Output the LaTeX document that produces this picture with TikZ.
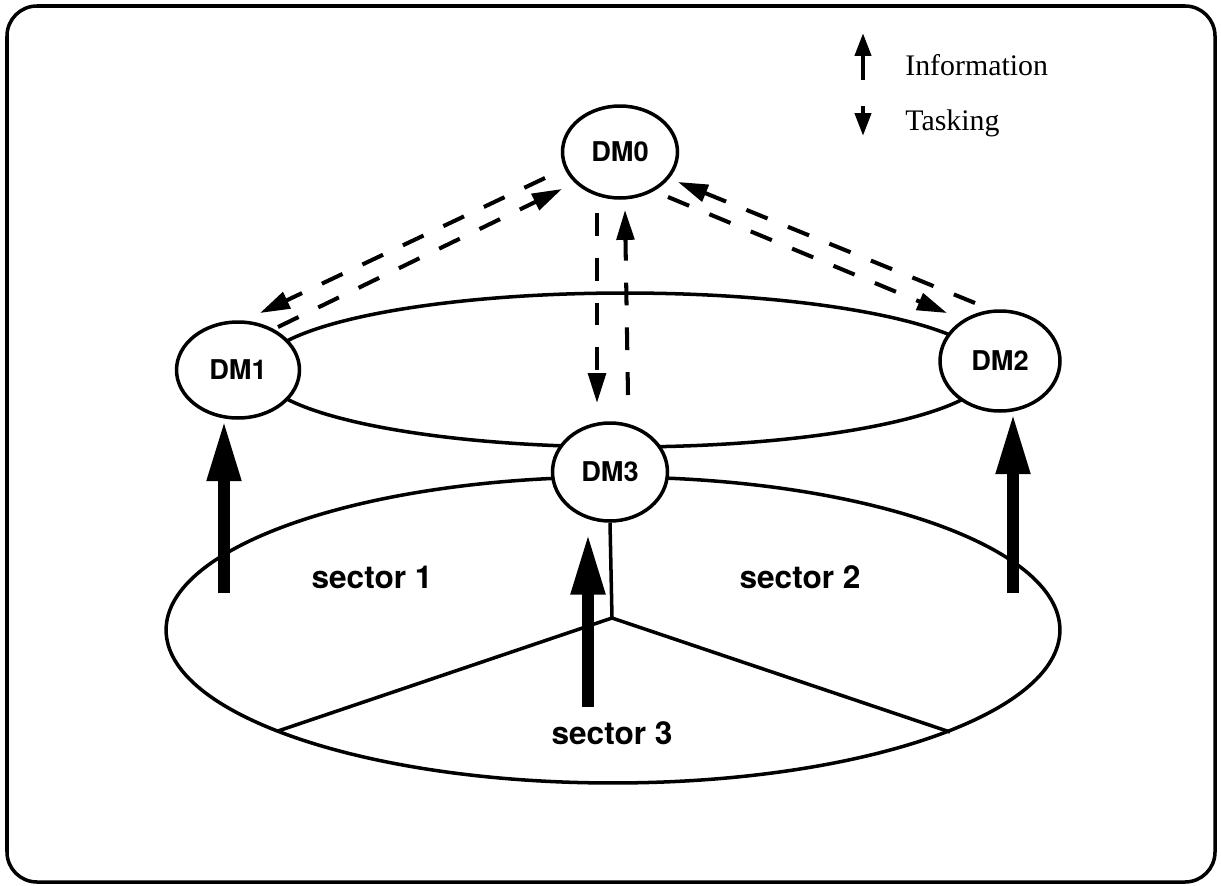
\documentclass[tikz,border=0pt]{standalone}
\usepackage{fontspec}
\setmainfont{Liberation Serif}
\setsansfont{TeX Gyre Heros}
\usetikzlibrary{shapes.geometric,arrows.meta}
\begin{document}
\begin{tikzpicture}[x=0.02cm,y=-0.02cm,
  outline/.style={line width=2pt},
  dmnode/.style={ellipse,draw,line width=2pt,fill=white,inner sep=0pt,
    font=\sffamily\bfseries\fontsize{15.5}{15.5}\selectfont},
  seclabel/.style={font=\sffamily\bfseries\fontsize{18}{18}\selectfont},
  legendtext/.style={font=\fontsize{17}{17}\selectfont,anchor=west,inner sep=0pt},
  dasharrow/.style={line width=2.3pt,dash pattern=on 13pt off 12.5pt,
    -{Triangle[length=17pt,width=10pt]}},
  bigarrow/.style={line width=6.8pt,-{Triangle[length=35pt,width=18pt]}},
  legendarrow/.style={line width=2.5pt,-{Triangle[length=13pt,width=9pt]}}]
\useasboundingbox (0,0) rectangle (1221,886);
% frame
\draw[line width=2pt,rounded corners=0.6cm] (7,6) rectangle (1215,882);
% legend
\coordinate (la1) at (863,80);
\coordinate (la2) at (863,33);
\coordinate (lb1) at (863,106);
\coordinate (lb2) at (863,136);
\draw[legendarrow] (la1) -- (la2);
\draw[legendarrow] (lb1) -- (lb2);
\node[legendtext] (linfo) at (905,65) {Information};
\node[legendtext] (ltask) at (905,123) {Tasking};
% disk and ring
\coordinate (ctr) at (612,618);
\coordinate (sl) at (278,731);
\coordinate (sr) at (950,732);
\draw[outline] (613,630) ellipse [x radius=8.94cm, y radius=3.06cm];
\draw[outline] (sl) -- (ctr) -- (sr);
\draw[outline] (625,370) ellipse [x radius=7.3cm, y radius=1.54cm];
% nodes
\node[dmnode,minimum width=2.3cm,minimum height=1.84cm] (DM0) at (620,152) {DM0};
\node[dmnode,minimum width=2.46cm,minimum height=1.92cm] (DM1) at (238,370) {DM1};
\node[dmnode,minimum width=2.4cm,minimum height=2.0cm] (DM2) at (1000,361) {DM2};
\node[dmnode,minimum width=2.3cm,minimum height=1.96cm] (DM3) at (610,472) {DM3};
\draw[outline] (DM3.south) -- (ctr);
% sector labels
\node[seclabel] (s1) at (372,577) {sector 1};
\node[seclabel] (s2) at (800,577) {sector 2};
\node[seclabel] (s3) at (612,733) {sector 3};
% dashed arrows
\coordinate (t1s) at (545,178); \coordinate (t1e) at (260,313);
\coordinate (i1s) at (278,327); \coordinate (i1e) at (562,189);
\coordinate (i2s) at (975,303); \coordinate (i2e) at (678,182);
\coordinate (t2s) at (668,197); \coordinate (t2e) at (947,313);
\coordinate (t3s) at (597,213); \coordinate (t3e) at (597,403);
\coordinate (i3s) at (628,395); \coordinate (i3e) at (625,210);
\draw[dasharrow] (t1s) -- (t1e);
\draw[dasharrow] (i1s) -- (i1e);
\draw[dasharrow] (i2s) -- (i2e);
\draw[dasharrow] (t2s) -- (t2e);
\draw[dasharrow] (t3s) -- (t3e);
\draw[dasharrow] (i3s) -- (i3e);
% thick information arrows
\coordinate (b1) at (224,593);
\coordinate (b2) at (1013,593);
\coordinate (b3) at (588,707);
\coordinate (b3t) at (588,533);
\draw[bigarrow] (b1) -- (b1 |- DM1.south);
\draw[bigarrow] (b2) -- (b2 |- DM2.south);
\draw[bigarrow] (b3) -- (b3t);
\end{tikzpicture}
\end{document}
